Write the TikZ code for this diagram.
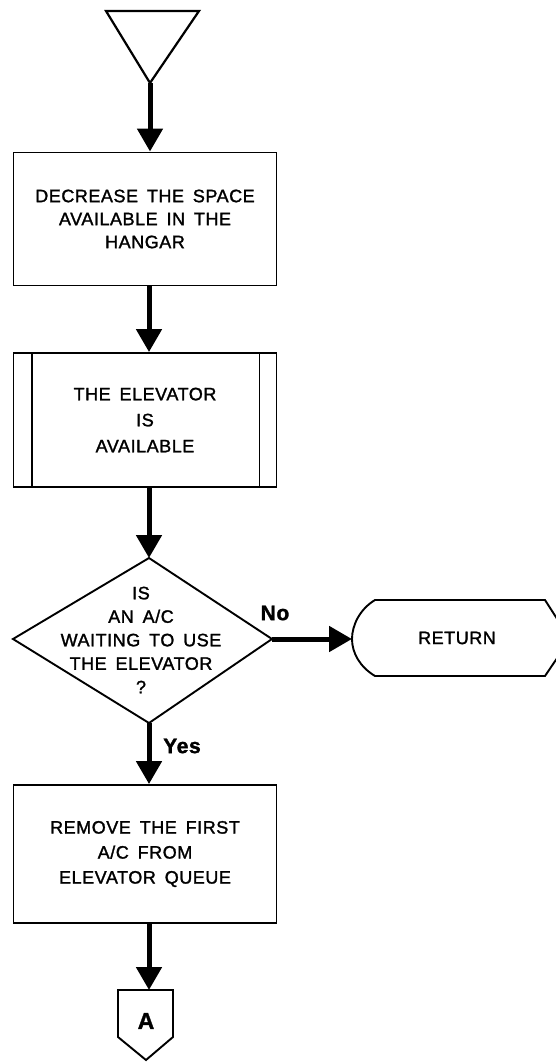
\documentclass[tikz,border=0pt]{standalone}
\usepackage{fontspec}
\setmainfont[LetterSpace=3, FakeBold=1.5, WordSpace=1.6]{Liberation Sans}
\usetikzlibrary{arrows.meta}
\begin{document}
\begin{tikzpicture}[x=1pt,y=-1pt,
  outline/.style={draw=black, line width=1.9pt, line join=miter},
  procbox/.style={outline, minimum width=263pt, inner sep=0pt, align=center,
    font=\fontsize{18}{23}\selectfont},
  flow/.style={draw=black, line width=5pt, -{Triangle[length=23pt,width=25pt]}},
  lbl/.style={font=\fontsize{18}{23.5}\selectfont, align=center, inner sep=0pt},
  branch/.style={font=\bfseries\fontsize{21}{24}\selectfont, inner sep=0pt}]
\useasboundingbox (0,0) rectangle (556,1062);
\clip (0,0) rectangle (556,1062);

% flow axis
\coordinate (axis) at (149,0);

% entry triangle
\coordinate (t1) at (106,11);
\coordinate (t2) at (199,11);
\coordinate (t3) at (150,83);
\draw[outline, line width=2.2pt] (t1) -- (t2) -- (t3) -- cycle;

% process boxes
\node[procbox, minimum height=133pt] (b1) at (145,219)
  {DECREASE THE SPACE\\AVAILABLE IN THE\\HANGAR};
\node[procbox, minimum height=134pt, font=\fontsize{18}{26}\selectfont] (b2) at (145,420)
  {THE ELEVATOR\\IS\\AVAILABLE};
\draw[outline] ([xshift=19pt]b2.north west) -- ([xshift=19pt]b2.south west);
\draw[outline] ([xshift=-18pt]b2.north east) -- ([xshift=-18pt]b2.south east);

% decision
\coordinate (dt) at (149,558);
\coordinate (dr) at (272,639);
\coordinate (db) at (149,723);
\coordinate (dl) at (13,639);
\draw[outline] (dt) -- (dr) -- (db) -- (dl) -- cycle;
\node[lbl] (q) at (141,640) {IS\\AN A/C\\WAITING TO USE\\THE ELEVATOR\\?};

% terminal
\coordinate (rw) at (352,639);
\draw[outline] (375,600) -- (545,600) -- (570,639) -- (545,676) -- (375,676)
  .. controls (360,667) and (352,653) .. (rw)
  .. controls (352,625) and (360,609) .. (375,600) -- cycle;
\node[lbl] (ret) at (457,638) {RETURN};

\node[procbox, minimum height=138pt, font=\fontsize{18}{25}\selectfont] (b3) at (145,854)
  {REMOVE THE FIRST\\A/C FROM\\ELEVATOR QUEUE};

% off-page connector
\coordinate (pt) at (149,990);
\draw[outline] (118,990) -- (173,990) -- (173,1037) -- (146,1060) -- (118,1037) -- cycle;
\node[font=\bfseries\fontsize{23}{24}\selectfont, inner sep=0pt] (pa) at (146,1021) {A};

% branch labels
\node[branch] (no) at (275,613) {No};
\node[branch] (yes) at (182,746) {Yes};

% connectors
\draw[flow] (t3) -- (b1.north -| t3);
\draw[flow] (b1.south -| axis) -- (b2.north -| axis);
\draw[flow] (b2.south -| axis) -- (dt);
\draw[flow] (dr) -- (rw);
\draw[flow] (db) -- (b3.north -| axis);
\draw[flow] (b3.south -| axis) -- (pt);
\end{tikzpicture}
\end{document}
